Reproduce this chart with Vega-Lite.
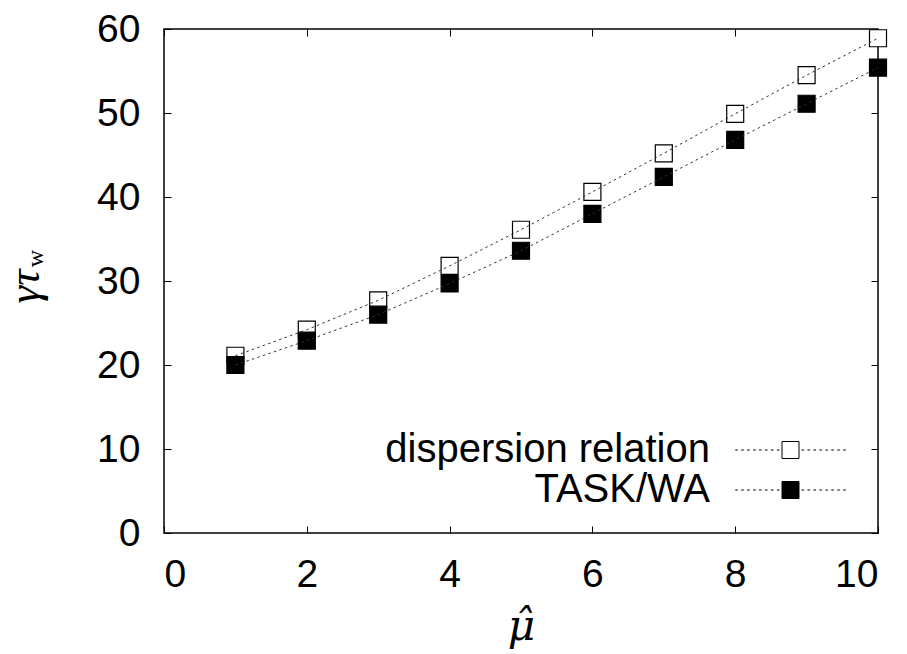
{
  "$schema": "https://vega.github.io/schema/vega-lite/v6.json",
  "autosize": {"type": "none"},
  "padding": {"left": 164, "top": 29, "right": 29, "bottom": 121},
  "width": 714,
  "height": 504,
  "background": "white",
  "config": {
    "view": {"stroke": "black", "strokeWidth": 1.5},
    "font": "Liberation Sans",
    "axis": {"grid": false, "domain": false, "tickColor": "black", "tickSize": -7, "tickWidth": 1, "labelColor": "black", "labelFont": "Liberation Sans", "labelFontSize": 39, "titleColor": "black"}
  },
  "data": {
    "values": [
      {"mu": 1, "val": 21.1, "series": "dispersion relation"},
      {"mu": 2, "val": 24.2, "series": "dispersion relation"},
      {"mu": 3, "val": 27.7, "series": "dispersion relation"},
      {"mu": 4, "val": 31.8, "series": "dispersion relation"},
      {"mu": 5, "val": 36.1, "series": "dispersion relation"},
      {"mu": 6, "val": 40.6, "series": "dispersion relation"},
      {"mu": 7, "val": 45.2, "series": "dispersion relation"},
      {"mu": 8, "val": 49.9, "series": "dispersion relation"},
      {"mu": 9, "val": 54.5, "series": "dispersion relation"},
      {"mu": 10, "val": 58.9, "series": "dispersion relation"},
      {"mu": 1, "val": 20.0, "series": "TASK/WA"},
      {"mu": 2, "val": 22.9, "series": "TASK/WA"},
      {"mu": 3, "val": 26.0, "series": "TASK/WA"},
      {"mu": 4, "val": 29.7, "series": "TASK/WA"},
      {"mu": 5, "val": 33.6, "series": "TASK/WA"},
      {"mu": 6, "val": 38.0, "series": "TASK/WA"},
      {"mu": 7, "val": 42.4, "series": "TASK/WA"},
      {"mu": 8, "val": 46.8, "series": "TASK/WA"},
      {"mu": 9, "val": 51.1, "series": "TASK/WA"},
      {"mu": 10, "val": 55.4, "series": "TASK/WA"}
    ]
  },
  "layer": [
    {
      "mark": {"type": "point", "shape": "square", "filled": true, "size": 289, "stroke": "black", "strokeWidth": 1.2, "opacity": 1},
      "encoding": {
        "x": {"field": "mu", "type": "quantitative", "scale": {"domain": [0, 10], "nice": false},
          "axis": {"orient": "bottom", "values": [0, 2, 4, 6, 8, 10], "labelPadding": 29, "title": "μ̂", "titleFont": "DejaVu Serif", "titleFontStyle": "italic", "titleFontWeight": "normal", "titleFontSize": 42, "titleX": 357, "titleY": 106, "titleBaseline": "alphabetic", "titleAlign": "center"}},
        "y": {"field": "val", "type": "quantitative", "scale": {"domain": [0, 60], "nice": false},
          "axis": {"orient": "left", "values": [0, 10, 20, 30, 40, 50, 60], "labelPadding": 31, "title": "γτ", "titleFont": "Liberation Serif", "titleFontStyle": "italic", "titleFontWeight": "normal", "titleFontSize": 45, "titleX": -126, "titleY": 257, "titleAngle": -90, "titleBaseline": "alphabetic", "titleAlign": "center"}},
        "fill": {"field": "series", "type": "nominal", "sort": ["dispersion relation", "TASK/WA"],
          "scale": {"domain": ["dispersion relation", "TASK/WA"], "range": ["white", "black"]},
          "legend": {
            "title": null, "orient": "none", "legendX": 606.5, "legendY": 401, "padding": 0,
            "symbolType": "M-1,-1H1V1H-1Z M-6.5,0h0.3m0.4,0h0.3m0.4,0h0.3m0.4,0h0.3m0.4,0h0.3m0.4,0h0.3m0.4,0h0.3m0.4,0h0.3 M1.3,0h0.3m0.4,0h0.3m0.4,0h0.3m0.4,0h0.3m0.4,0h0.3m0.4,0h0.3m0.4,0h0.3m0.4,0h0.3",
            "symbolSize": 289, "symbolStrokeColor": "black", "symbolStrokeWidth": 1, "symbolOpacity": 1,
            "labelFont": "Liberation Sans", "labelFontSize": 40, "labelColor": "black", "labelAlign": "right", "labelOffset": -100.5, "labelLimit": 0, "rowPadding": -2
          }}
      }
    },
    {
      "mark": {"type": "line", "color": "#333333", "strokeWidth": 1, "strokeDash": [2.5, 3.3]},
      "encoding": {
        "x": {"field": "mu", "type": "quantitative", "axis": {"orient": "top", "values": [0, 2, 4, 6, 8, 10], "labels": false, "title": null}},
        "y": {"field": "val", "type": "quantitative", "axis": {"orient": "right", "values": [0, 10, 20, 30, 40, 50, 60], "labels": false, "title": "w", "titleFont": "Liberation Serif", "titleFontStyle": "normal", "titleFontWeight": "normal", "titleFontSize": 24, "titleX": -836, "titleY": 229, "titleAngle": -90, "titleBaseline": "alphabetic", "titleAlign": "center"}},
        "detail": {"field": "series", "type": "nominal"}
      }
    }
  ],
  "resolve": {"axis": {"x": "independent", "y": "independent"}}
}
